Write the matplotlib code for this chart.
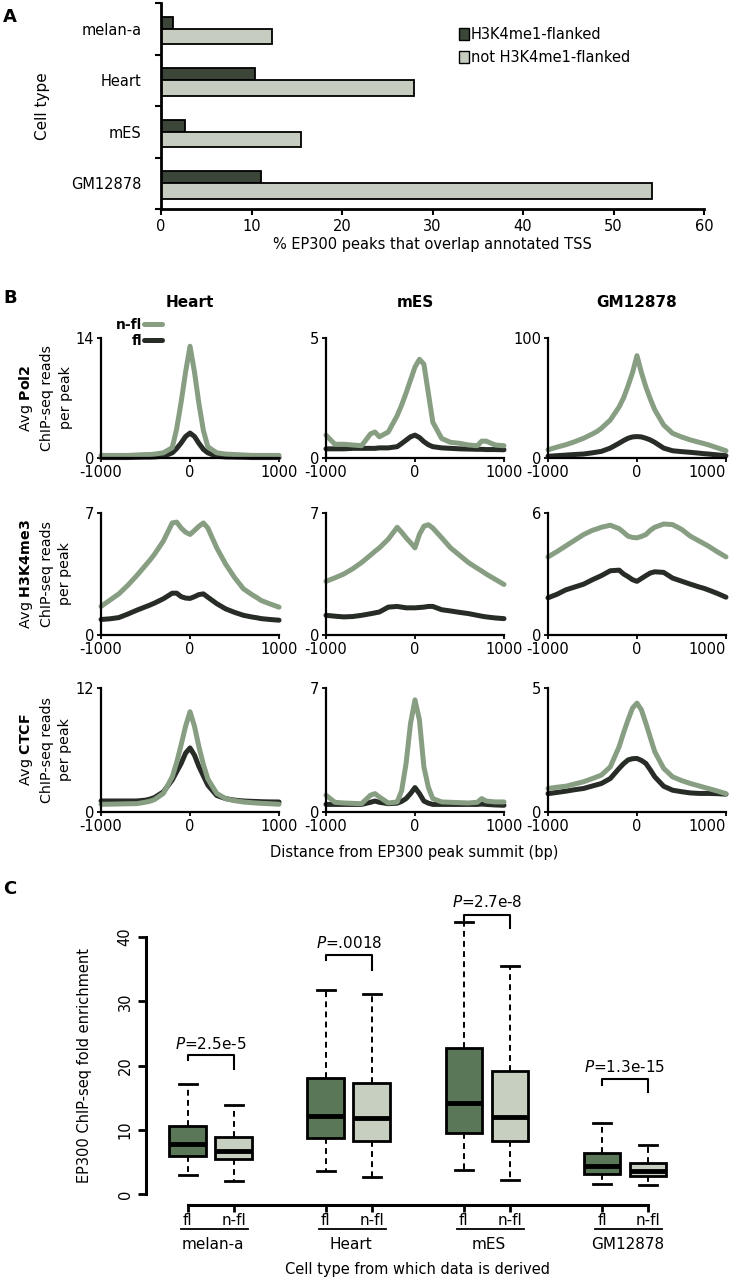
import numpy as np
import matplotlib
matplotlib.use('Agg')
import matplotlib.pyplot as plt
from matplotlib.patches import Patch

plt.rcParams['font.family'] = ['DejaVu Sans']
plt.rcParams['mathtext.fontset'] = 'dejavusans'
plt.rcParams['axes.unicode_minus'] = False

# ---- panel A data
cells_a = ['melan-a', 'Heart', 'mES', 'GM12878']
tss_fl = [1.3, 10.4, 2.6, 11.0]
tss_nfl = [12.3, 28.0, 15.5, 54.2]

# ---- panel B data (bp from EP300 summit)
dist = [-1000, -900, -800, -700, -600, -500, -450, -400, -300, -200, -150, -100, -50, 0,
        50, 100, 150, 200, 300, 400, 500, 600, 700, 750, 800, 900, 1000]

heart_pol2_nfl = [0.3, 0.3, 0.3, 0.3, 0.35, 0.4, 0.4, 0.45, 0.6, 1.2, 3.4, 6.5, 10.0, 13.0,
                  10.0, 6.3, 3.2, 1.3, 0.6, 0.45, 0.4, 0.35, 0.3, 0.3, 0.3, 0.3, 0.3]
heart_pol2_fl = [0.05, 0.05, 0.05, 0.05, 0.08, 0.1, 0.1, 0.12, 0.2, 0.6, 1.1, 1.75, 2.5, 2.9,
                 2.5, 1.7, 1.0, 0.6, 0.2, 0.12, 0.1, 0.08, 0.05, 0.05, 0.05, 0.05, 0.05]
mes_pol2_nfl = [0.95, 0.57, 0.57, 0.54, 0.51, 1.0, 1.08, 0.88, 1.08, 1.76, 2.2, 2.7, 3.24, 3.78,
                4.1, 3.9, 2.7, 1.49, 0.81, 0.65, 0.61, 0.54, 0.51, 0.7, 0.7, 0.54, 0.51]
mes_pol2_fl = [0.38, 0.38, 0.38, 0.4, 0.4, 0.4, 0.4, 0.42, 0.42, 0.47, 0.6, 0.74, 0.88, 0.95,
               0.85, 0.68, 0.55, 0.47, 0.42, 0.4, 0.38, 0.37, 0.36, 0.36, 0.35, 0.35, 0.34]
gm_pol2_nfl = [6.8, 9, 11, 13.5, 16.4, 20, 22, 24.7, 31.5, 42.5, 50, 60, 71, 85,
               71, 59, 49, 40, 27.4, 20.5, 17.5, 15, 13, 12, 11, 8.5, 6]
gm_pol2_fl = [1.4, 1.9, 2.4, 2.9, 3.3, 4.3, 4.9, 5.5, 8.2, 12.3, 14.5, 16.4, 17.5, 17.8,
              17.5, 16.4, 15, 13, 8.2, 6, 5.3, 4.7, 4.0, 3.6, 3.3, 2.6, 1.9]

heart_k4_nfl = [1.64, 2.0, 2.36, 2.85, 3.4, 4.0, 4.3, 4.63, 5.39, 6.43, 6.48, 6.14, 5.9, 5.77,
                6.0, 6.24, 6.43, 6.14, 5.0, 4.07, 3.3, 2.65, 2.3, 2.15, 1.98, 1.78, 1.6]
heart_k4_fl = [0.89, 0.93, 1.0, 1.2, 1.42, 1.62, 1.72, 1.83, 2.08, 2.4, 2.4, 2.2, 2.12, 2.1,
               2.2, 2.32, 2.36, 2.17, 1.8, 1.5, 1.3, 1.13, 1.03, 0.99, 0.94, 0.89, 0.85]
mes_k4_nfl = [3.08, 3.28, 3.5, 3.8, 4.16, 4.58, 4.8, 5.0, 5.5, 6.18, 5.9, 5.58, 5.3, 5.0,
              5.77, 6.24, 6.33, 6.14, 5.58, 5.0, 4.58, 4.16, 3.83, 3.67, 3.5, 3.2, 2.9]
mes_k4_fl = [1.13, 1.08, 1.04, 1.06, 1.13, 1.22, 1.27, 1.32, 1.6, 1.64, 1.6, 1.56, 1.56, 1.56,
             1.58, 1.6, 1.64, 1.64, 1.45, 1.38, 1.3, 1.23, 1.13, 1.08, 1.04, 0.98, 0.94]
gm_k4_nfl = [3.84, 4.1, 4.38, 4.66, 4.94, 5.15, 5.22, 5.3, 5.4, 5.23, 5.05, 4.86, 4.8, 4.78,
             4.85, 4.94, 5.15, 5.3, 5.46, 5.43, 5.2, 4.86, 4.62, 4.5, 4.38, 4.1, 3.84]
gm_k4_fl = [1.83, 2.0, 2.22, 2.36, 2.5, 2.72, 2.82, 2.92, 3.16, 3.19, 3.0, 2.87, 2.72, 2.64,
            2.78, 2.92, 3.05, 3.11, 3.08, 2.8, 2.65, 2.5, 2.36, 2.3, 2.22, 2.05, 1.86]

heart_ctcf_nfl = [0.75, 0.76, 0.78, 0.8, 0.81, 0.95, 1.05, 1.2, 1.8, 3.4, 4.8, 6.5, 8.3, 9.7,
                  8.3, 6.3, 4.6, 3.2, 1.8, 1.3, 1.1, 0.97, 0.9, 0.87, 0.84, 0.8, 0.75]
heart_ctcf_fl = [1.07, 1.07, 1.07, 1.07, 1.07, 1.15, 1.25, 1.4, 1.95, 3.1, 3.9, 4.7, 5.7, 6.2,
                 5.5, 4.4, 3.5, 2.6, 1.6, 1.3, 1.15, 1.07, 1.03, 1.02, 1.0, 0.98, 0.97]
mes_ctcf_nfl = [0.95, 0.55, 0.51, 0.49, 0.47, 0.95, 1.04, 0.85, 0.51, 0.57, 1.2, 2.74, 5.0, 6.33,
                5.2, 2.55, 1.4, 0.76, 0.57, 0.55, 0.53, 0.51, 0.55, 0.76, 0.62, 0.57, 0.57]
mes_ctcf_fl = [0.43, 0.43, 0.43, 0.43, 0.43, 0.55, 0.62, 0.55, 0.47, 0.5, 0.6, 0.76, 1.04, 1.38,
               1.04, 0.62, 0.5, 0.43, 0.43, 0.43, 0.43, 0.43, 0.43, 0.45, 0.43, 0.4, 0.38]
gm_ctcf_nfl = [0.95, 1.0, 1.04, 1.13, 1.22, 1.35, 1.42, 1.49, 1.82, 2.64, 3.2, 3.72, 4.19, 4.39,
               4.12, 3.58, 3.0, 2.43, 1.76, 1.42, 1.27, 1.15, 1.05, 1.0, 0.95, 0.85, 0.74]
gm_ctcf_fl = [0.74, 0.79, 0.84, 0.9, 0.95, 1.05, 1.1, 1.15, 1.35, 1.76, 1.95, 2.1, 2.15, 2.16,
              2.08, 1.96, 1.7, 1.42, 1.04, 0.88, 0.82, 0.77, 0.75, 0.75, 0.75, 0.74, 0.72]

b_cols = ['Heart', 'mES', 'GM12878']
b_marks = ['Pol2', 'H3K4me3', 'CTCF']
b_ymax = [[14, 5, 100], [7, 7, 6], [12, 7, 5]]
b_nfl = [[heart_pol2_nfl, mes_pol2_nfl, gm_pol2_nfl],
         [heart_k4_nfl, mes_k4_nfl, gm_k4_nfl],
         [heart_ctcf_nfl, mes_ctcf_nfl, gm_ctcf_nfl]]
b_fl = [[heart_pol2_fl, mes_pol2_fl, gm_pol2_fl],
        [heart_k4_fl, mes_k4_fl, gm_k4_fl],
        [heart_ctcf_fl, mes_ctcf_fl, gm_ctcf_fl]]

# ---- panel C data (box stats)
cells_c = ['melan-a', 'Heart', 'mES', 'GM12878']
box_lo = [3.0, 2.0, 3.6, 2.7, 3.8, 2.2, 1.6, 1.4]
box_q1 = [6.0, 5.4, 8.7, 8.2, 9.5, 8.2, 3.2, 2.8]
box_med = [7.8, 6.7, 12.1, 11.8, 14.2, 12.0, 4.4, 3.6]
box_q3 = [10.6, 8.9, 18.1, 17.3, 22.7, 19.2, 6.4, 4.9]
box_hi = [17.2, 13.8, 31.8, 31.1, 42.4, 35.5, 11.1, 7.7]
p_labels = ['=2.5e-5', '=.0018', '=2.7e-8', '=1.3e-15']
p_text_y = [23.4, 39.0, 45.4, 19.8]
br_top = [21.6, 37.2, 43.5, 17.9]
br_left = [20.8, 36.4, 42.6, 17.0]
br_right = [19.5, 34.8, 41.4, 15.9]

dark_bar = '#3b4639'
light_bar = '#c6cdc0'
green_line = '#879e82'
dark_line = '#282c27'
box_dark = '#5a7757'
box_light = '#c7cfc1'

fig = plt.figure(figsize=(7.38, 12.8), dpi=100)

# ================= A
axA = fig.add_axes([0.2182, 0.8367, 0.7358, 0.1609])
yc = np.arange(len(cells_a)) + 0.5
axA.barh(yc - 0.115, tss_fl, height=0.23, color=dark_bar, edgecolor='black', lw=1.3)
axA.barh(yc + 0.15, tss_nfl, height=0.30, color=light_bar, edgecolor='black', lw=1.3)
axA.set_ylim(4, 0)
axA.set_xlim(0, 60)
axA.set_xticks(range(0, 61, 10))
axA.set_yticks(range(5))
axA.set_yticklabels([])
axA.set_yticks(yc, labels=cells_a, minor=True)
axA.tick_params(axis='y', which='minor', length=0, pad=14, labelsize=10.5)
axA.tick_params(axis='y', which='major', length=4, width=1.5, direction='out')
axA.tick_params(axis='x', length=4, width=1.5, labelsize=10.5)
for s in ['top', 'right']:
    axA.spines[s].set_visible(False)
for s in ['left', 'bottom']:
    axA.spines[s].set_linewidth(2)
axA.set_xlabel('% EP300 peaks that overlap annotated TSS', fontsize=10.5, labelpad=2)
axA.set_ylabel('Cell type', fontsize=11)
axA.yaxis.set_label_coords(-0.205, 0.5)
axA.legend(handles=[Patch(facecolor=dark_bar, edgecolor='black'),
                    Patch(facecolor=light_bar, edgecolor='black')],
           labels=['H3K4me1-flanked', 'not H3K4me1-flanked'],
           loc='upper left', bbox_to_anchor=(0.535, 0.92), frameon=False,
           handlelength=0.7, handleheight=0.9, handletextpad=0.1,
           labelspacing=0.55, borderpad=0, fontsize=10.5)
fig.text(0.004, 0.9935, 'A', fontsize=13, fontweight='bold', va='top')

# ================= B
col_left = [0.1369, 0.4417, 0.7425]
row_bottom = [0.6422, 0.5039, 0.3656]
row_height = [0.0940, 0.0953, 0.0969]
for r in range(3):
    for c in range(3):
        ax = fig.add_axes([col_left[c], row_bottom[r], 0.2412, row_height[r]])
        ax.plot(dist, b_fl[r][c], color=dark_line, lw=3.6, solid_capstyle='round',
                solid_joinstyle='round', clip_on=False, label='fl')
        ax.plot(dist, b_nfl[r][c], color=green_line, lw=3.6, solid_capstyle='round',
                solid_joinstyle='round', clip_on=False, label='n-fl')
        ax.set_xlim(-1000, 1000)
        ax.set_ylim(0, b_ymax[r][c])
        ax.set_xticks([-1000, 0, 1000])
        ax.set_yticks([0, b_ymax[r][c]])
        ax.tick_params(length=3, width=1.3, labelsize=10.5, pad=2)
        if c == 2:
            ax.get_xticklabels()[-1].set_horizontalalignment('right')
        for s in ['top', 'right']:
            ax.spines[s].set_visible(False)
        for s in ['left', 'bottom']:
            ax.spines[s].set_linewidth(1.6)
        if r == 0:
            ax.set_title(b_cols[c], fontsize=11, fontweight='bold', pad=22)
        if r == 0 and c == 0:
            h = ax.get_legend_handles_labels()[0]
            ax.legend([h[1], h[0]], ['n-fl', 'fl'], loc='upper right',
                      bbox_to_anchor=(0.38, 1.22), frameon=False, markerfirst=False,
                      handlelength=1.3, handletextpad=0.1, labelspacing=0.15,
                      borderpad=0, prop={'weight': 'bold', 'size': 10})
    fig.text(0.061, row_bottom[r] + row_height[r] / 2,
             'Avg $\\mathbf{' + b_marks[r] + '}$\nChIP-seq reads\nper peak',
             rotation=90, ha='center', va='center', fontsize=10.3,
             linespacing=1.45, multialignment='center')
fig.text(0.561, 1 - 852 / 1280, 'Distance from EP300 peak summit (bp)',
         ha='center', va='center', fontsize=10.5)
fig.text(0.004, 1 - 289 / 1280, 'B', fontsize=13, fontweight='bold', va='top')

# ================= C
axC = fig.add_axes([0.1978, 0.0586, 0.7114, 0.2445])
pos = [0, 1, 3, 4, 6, 7, 9, 10]
stats = []
for i in range(len(pos)):
    stats.append({'med': box_med[i], 'q1': box_q1[i], 'q3': box_q3[i],
                  'whislo': box_lo[i], 'whishi': box_hi[i], 'fliers': []})
bp = axC.bxp(stats, positions=pos, widths=0.8, patch_artist=True, showfliers=False,
             boxprops=dict(linewidth=2, edgecolor='black'),
             medianprops=dict(color='black', linewidth=3.5),
             whiskerprops=dict(color='black', linewidth=1.4, linestyle=(0, (3, 2.2))),
             capprops=dict(color='black', linewidth=2))
for i, patch in enumerate(bp['boxes']):
    patch.set_facecolor(box_dark if i % 2 == 0 else box_light)

axC.set_xlim(-0.91, 10.5)
axC.set_ylim(-1.7, 47)
axC.spines['left'].set_bounds(0, 40)
axC.spines['bottom'].set_bounds(0, 10)
for s in ['top', 'right']:
    axC.spines[s].set_visible(False)
for s in ['left', 'bottom']:
    axC.spines[s].set_linewidth(2.2)
axC.set_yticks(range(0, 41, 10))
axC.set_yticklabels([str(v) for v in range(0, 41, 10)], rotation=90, va='center')
axC.set_xticks(pos)
axC.set_xticklabels(['fl', 'n-fl'] * 4)
axC.tick_params(axis='x', length=5, width=2, labelsize=11, pad=0.5)
axC.tick_params(axis='y', length=6, width=2, labelsize=10.5)

tr = axC.get_xaxis_transform()
for g in range(4):
    x0 = pos[2 * g]
    axC.plot([x0 - 0.15, x0 + 1.3], [-0.078, -0.078], color='black', lw=1.3,
             transform=tr, clip_on=False)
    axC.text(x0 + 0.55, -0.125, cells_c[g], transform=tr, ha='center', va='center',
             fontsize=11)
    axC.plot([x0, x0, x0 + 1, x0 + 1], [br_left[g], br_top[g], br_top[g], br_right[g]],
             color='black', lw=1.5, clip_on=False)
    axC.text(x0 + 0.5, p_text_y[g], '$\\it{P}$' + p_labels[g], ha='center', va='center',
             fontsize=11)

axC.set_xlabel('Cell type from which data is derived', fontsize=10.5)
axC.xaxis.set_label_coords(0.518, -0.183)
axC.set_ylabel('EP300 ChIP-seq fold enrichment', fontsize=10.5)
axC.yaxis.set_label_coords(-0.103, 0.447)
fig.text(0.004, 1 - 880 / 1280, 'C', fontsize=13, fontweight='bold', va='top')

fig.savefig('out.png', dpi=100)
